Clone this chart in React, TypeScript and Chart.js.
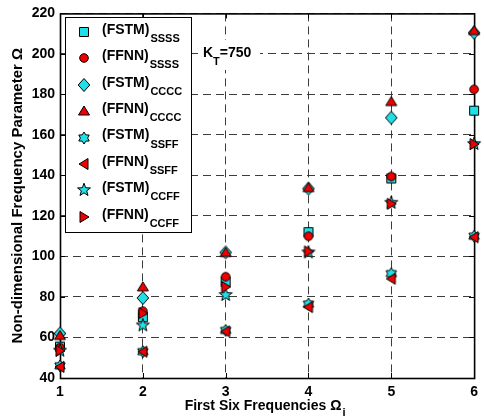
import React, { useEffect, useRef } from 'react';
import { Chart, registerables } from 'chart.js';
Chart.register(...registerables);

const modes = [1, 2, 3, 4, 5, 6];
const fstmSSSS = [55.5, 70, 87.5, 112, 138.5, 172];
const ffnnSSSS = [55, 73, 90, 110, 139.5, 182.5];
const fstmCCCC = [62, 79.5, 102, 133.5, 168.5, 210.5];
const ffnnCCCC = [61, 85, 102, 134, 176.5, 211.5];
const fstmSSFF = [46, 53, 63.5, 76.5, 91.5, 110];
const ffnnSSFF = [45.5, 53, 63, 75, 89, 109.5];
const fstmCCFF = [53.5, 66, 81, 102, 126.5, 155.5];
const ffnnCCFF = [53.5, 72, 85, 102.5, 126, 155.5];

const legendMain = ['(FSTM)', '(FFNN)', '(FSTM)', '(FFNN)', '(FSTM)', '(FFNN)', '(FSTM)', '(FFNN)'];
const legendSub = ['SSSS', 'SSSS', 'CCCC', 'CCCC', 'SSFF', 'SSFF', 'CCFF', 'CCFF'];
const markerKinds = ['square', 'circle', 'diamond', 'triUp', 'hexagram', 'triLeft', 'pentagram', 'triRight'];
const seriesValues = [fstmSSSS, ffnnSSSS, fstmCCCC, ffnnCCCC, fstmSSFF, ffnnSSFF, fstmCCFF, ffnnCCFF];

const CYAN = '#1ee0e6';
const RED = '#f00000';
const FONT = "'Liberation Sans', Arial, sans-serif";

function star(g: CanvasRenderingContext2D, cx: number, cy: number, n: number, R: number, r: number) {
  for (let i = 0; i < n * 2; i++) {
    const ang = -Math.PI / 2 + (i * Math.PI) / n;
    const rad = i % 2 === 0 ? R : r;
    const x = cx + rad * Math.cos(ang);
    const y = cy + rad * Math.sin(ang);
    if (i === 0) g.moveTo(x, y);
    else g.lineTo(x, y);
  }
  g.closePath();
}

function makeMarker(kind: string, fill: string): HTMLCanvasElement {
  const c = document.createElement('canvas');
  c.width = 16;
  c.height = 16;
  const g = c.getContext('2d')!;
  g.fillStyle = fill;
  g.strokeStyle = '#000';
  g.lineWidth = 1;
  g.beginPath();
  const cx = 8, cy = 8;
  switch (kind) {
    case 'square': g.rect(3.5, 3.5, 9, 9); break;
    case 'circle': g.arc(cx, cy, 4.3, 0, Math.PI * 2); break;
    case 'diamond':
      g.moveTo(cx, cy - 6.5); g.lineTo(cx + 5.8, cy); g.lineTo(cx, cy + 6.5); g.lineTo(cx - 5.8, cy); g.closePath(); break;
    case 'triUp':
      g.moveTo(cx, cy - 5); g.lineTo(cx + 5.5, cy + 4); g.lineTo(cx - 5.5, cy + 4); g.closePath(); break;
    case 'triLeft':
      g.moveTo(cx - 5, cy); g.lineTo(cx + 4, cy - 5.5); g.lineTo(cx + 4, cy + 5.5); g.closePath(); break;
    case 'triRight':
      g.moveTo(cx + 5, cy); g.lineTo(cx - 4, cy - 5.5); g.lineTo(cx - 4, cy + 5.5); g.closePath(); break;
    case 'hexagram': star(g, cx, cy, 6, 6, 3.6); break;
    case 'pentagram': star(g, cx, cy, 5, 6.8, 2.8); break;
  }
  g.fill();
  g.stroke();
  return c;
}

export default function App() {
  const ref = useRef<HTMLCanvasElement>(null);
  useEffect(() => {
    document.body.style.margin = '0';
    document.body.style.overflow = 'hidden';
    const markers = markerKinds.map((k, i) => makeMarker(k, i % 2 === 0 ? CYAN : RED));

    const overlay = {
      id: 'overlay',
      beforeDatasetsDraw(chart: any) {
        const { ctx, chartArea: a, scales } = chart;
        ctx.save();
        ctx.strokeStyle = '#000';
        ctx.lineWidth = 1;
        ctx.setLineDash([]);
        ctx.beginPath();
        scales.x.ticks.forEach((t: any) => {
          const px = Math.round(scales.x.getPixelForValue(t.value)) + 0.5;
          ctx.moveTo(px, a.bottom); ctx.lineTo(px, a.bottom - 5);
          ctx.moveTo(px, a.top); ctx.lineTo(px, a.top + 5);
        });
        scales.y.ticks.forEach((t: any) => {
          const py = Math.round(scales.y.getPixelForValue(t.value)) + 0.5;
          ctx.moveTo(a.left, py); ctx.lineTo(a.left + 5, py);
          ctx.moveTo(a.right, py); ctx.lineTo(a.right - 5, py);
        });
        ctx.stroke();
        ctx.lineWidth = 1.6;
        ctx.strokeRect(a.left + 0.5, a.top + 0.5, a.right - a.left, a.bottom - a.top);
        ctx.restore();
      },
      afterDatasetsDraw(chart: any) {
        const { ctx, chartArea: a } = chart;
        ctx.save();
        // legend
        ctx.fillStyle = '#fff';
        ctx.fillRect(65, 17, 126, 215);
        ctx.strokeStyle = '#000';
        ctx.lineWidth = 1;
        ctx.strokeRect(65.5, 17.5, 126, 215);
        ctx.textBaseline = 'middle';
        ctx.textAlign = 'left';
        legendMain.forEach((m, i) => {
          const yc = 32 + i * 26.4;
          const mk = markers[i];
          ctx.drawImage(mk, 84 - mk.width / 2, Math.round(yc) - mk.height / 2);
          ctx.fillStyle = '#000';
          ctx.font = `bold 14px ${FONT}`;
          ctx.fillText(m, 102, yc - 2);
          const w = ctx.measureText(m).width;
          ctx.font = `bold 11px ${FONT}`;
          ctx.fillText(legendSub[i], 102 + w + 1, yc + 7);
        });
        // K_T label
        ctx.fillStyle = '#fff';
        ctx.fillRect(199, 40, 61, 30);
        ctx.fillStyle = '#000';
        ctx.font = `bold 14px ${FONT}`;
        ctx.fillText('K', 203, 53);
        const kw = ctx.measureText('K').width;
        ctx.font = `bold 11px ${FONT}`;
        ctx.fillText('T', 203 + kw, 62);
        const tw = ctx.measureText('T').width;
        ctx.font = `bold 14px ${FONT}`;
        ctx.fillText('=750', 203 + kw + tw, 53);
        // x title
        ctx.font = `bold 14px ${FONT}`;
        const xt = 'First Six Frequencies Ω';
        const xw = ctx.measureText(xt).width;
        ctx.font = `bold 11px ${FONT}`;
        const iw = ctx.measureText('i').width;
        const cxm = (a.left + a.right) / 2 - 2;
        const x0 = cxm - (xw + iw + 1) / 2;
        ctx.font = `bold 14px ${FONT}`;
        ctx.fillText(xt, x0, 406);
        ctx.font = `bold 11px ${FONT}`;
        ctx.fillText('i', x0 + xw + 1, 413);
        // y title
        ctx.translate(18, (a.top + a.bottom) / 2);
        ctx.rotate(-Math.PI / 2);
        ctx.textAlign = 'center';
        ctx.font = `bold 15px ${FONT}`;
        ctx.fillText('Non-dimensional Frequency Parameter Ω', 0, 0);
        ctx.restore();
      },
    };

    const chart = new Chart(ref.current!, {
      type: 'scatter',
      data: {
        datasets: seriesValues.map((vals, i) => ({
          label: legendMain[i] + legendSub[i],
          data: modes.map((m, j) => ({ x: m, y: vals[j] })),
          pointStyle: markers[i] as any,
          pointRadius: 5,
          order: 8 - i,
          clip: false as any,
        })),
      },
      options: {
        animation: false,
        responsive: false,
        events: [],
        layout: { padding: { top: 13, right: 6, left: 0, bottom: 0 } },
        plugins: { legend: { display: false }, tooltip: { enabled: false } },
        scales: {
          x: {
            type: 'linear',
            min: 1,
            max: 6,
            ticks: { stepSize: 1, padding: 6, color: '#000', font: { family: FONT, size: 14, weight: 'bold' } },
            grid: { color: '#3c3c3c', lineWidth: 1, drawTicks: false },
            border: { display: false, dash: [8, 5] },
            afterFit: (s: any) => { s.height = 40; },
          },
          y: {
            type: 'linear',
            min: 40,
            max: 220,
            ticks: { stepSize: 20, padding: 5, color: '#000', font: { family: FONT, size: 14, weight: 'bold' } },
            grid: { color: '#3c3c3c', lineWidth: 1, drawTicks: false },
            border: { display: false, dash: [8, 5] },
            afterFit: (s: any) => { s.width = 60; },
          },
        },
      },
      plugins: [overlay],
    });
    return () => chart.destroy();
  }, []);
  return <canvas ref={ref} width={484} height={418} style={{ display: 'block' }} />;
}
